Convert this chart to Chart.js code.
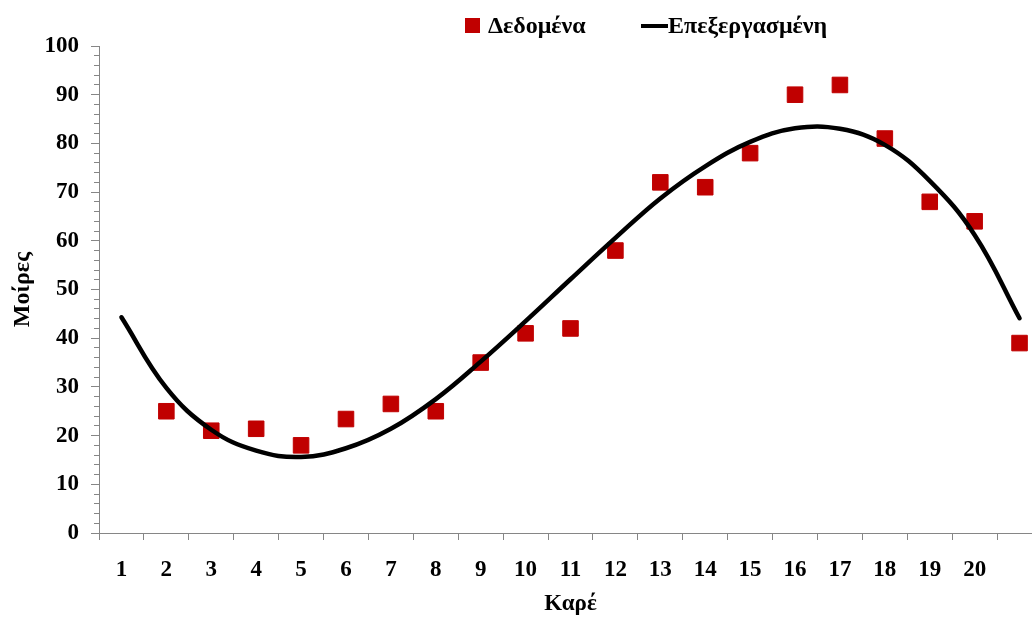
<!DOCTYPE html>
<html>
<head>
<meta charset="utf-8">
<script src="https://cdn.jsdelivr.net/npm/chart.js@4/dist/chart.umd.min.js"></script>
<style>
  html, body { margin: 0; padding: 0; width: 1032px; height: 618px; overflow: hidden; background: #fff; }
  #wrap { position: absolute; left: 0; top: 0; width: 1042px; height: 618px; }
  #legend { position: absolute; left: 0; top: 0; width: 1032px; height: 40px; font: bold 24px "Liberation Serif", "Times New Roman", serif; color: #000; }
  #legend .sw { position: absolute; }
  #legend .tx { position: absolute; top: 10px; line-height: 30px; white-space: nowrap; }
</style>
</head>
<body>
<div id="wrap"><canvas id="chart" width="1042" height="618"></canvas></div>
<div id="legend">
  <div class="sw" style="left:465px; top:18px; width:15px; height:15px; background:#C00000;"></div>
  <div class="tx" style="left:488px;">Δεδομένα</div>
  <div class="sw" style="left:641px; top:24px; width:27px; height:4px; background:#000;"></div>
  <div class="tx" style="left:668px;">Επεξεργασμένη</div>
</div>
<script>
// Frame numbers shown under the x axis
const frameLabels = ['1','2','3','4','5','6','7','8','9','10','11','12','13','14','15','16','17','18','19','20'];

// Measured angles (degrees) per frame
const dataFrames = [2, 3, 4, 5, 6, 7, 8, 9, 10, 11, 12, 13, 14, 15, 16, 17, 18, 19, 20, 21];
const dataDegrees = [25, 21, 21.4, 18, 23.4, 26.5, 25, 35, 41, 42, 58, 72, 71, 78, 90, 92, 81, 68, 64, 39];

// Processed (fitted) curve, sampled along the frame axis
const fitFrames = [1, 2, 3, 4, 5, 6, 7, 8, 9, 10, 11, 12, 13, 14, 15, 16, 17, 18, 19, 20, 21];
const fitDegrees = [44.3, 29.8, 21.2, 16.9, 15.6, 17.4, 21.4, 27.5, 35.2, 43.5, 52.1, 60.6, 68.7, 75.3, 80.3, 83.1, 83.0, 79.7, 72.3, 61.2, 44.1];

// Value-axis ticks: labelled every 10, minor marks every 2
const yMax = 100, yMajor = 10, yMinor = 2;

const serif = '"Liberation Serif", "Times New Roman", serif';
const axisGrey = '#868686';

const toXY = (xs, ys) => xs.map((x, i) => ({ x: x, y: ys[i] }));

new Chart(document.getElementById('chart'), {
  type: 'line',
  data: {
    datasets: [
      {
        label: 'Δεδομένα',
        data: toXY(dataFrames, dataDegrees),
        showLine: false,
        pointStyle: 'rect',
        pointRadius: 11,
        pointHoverRadius: 11,
        pointBackgroundColor: '#C00000',
        pointBorderColor: '#C00000',
        pointBorderWidth: 1,
        clip: false,
        order: 1
      },
      {
        label: 'Επεξεργασμένη',
        data: toXY(fitFrames, fitDegrees),
        borderColor: '#000',
        borderWidth: 4.5,
        pointRadius: 0,
        pointHoverRadius: 0,
        tension: 0.4,
        borderCapStyle: 'round',
        fill: false,
        order: 0
      }
    ]
  },
  options: {
    responsive: false,
    animation: false,
    devicePixelRatio: 1,
    layout: { autoPadding: false, padding: { top: 46, left: 0, right: 0, bottom: 0 } },
    plugins: {
      legend: { display: false },
      tooltip: { enabled: false }
    },
    scales: {
      x: {
        type: 'linear',
        min: 0.5,
        max: frameLabels.length + 1.5,
        afterBuildTicks: (scale) => {
          const t = [];
          for (let v = 0.5; v <= frameLabels.length + 1.5; v += 1) t.push({ value: v });
          scale.ticks = t;
        },
        afterFit: (scale) => {
          scale.height = 85;
          // the axis runs right up to the frame edge on both sides
          scale.paddingLeft = 0;
          scale.paddingRight = 0;
        },
        ticks: {
          autoSkip: false,
          maxRotation: 0,
          minRotation: 0,
          labelOffset: 22.45,
          padding: 16,
          color: '#000',
          font: { family: serif, size: 23, weight: 'bold' },
          callback: (v) => frameLabels[Math.round(v - 0.5)] ?? ''
        },
        grid: {
          display: true,
          drawOnChartArea: false,
          drawTicks: true,
          tickLength: 7,
          tickColor: axisGrey,
          tickWidth: 1
        },
        border: { display: true, color: axisGrey, width: 1 },
        title: {
          display: true,
          text: 'Καρέ',
          color: '#000',
          font: { family: serif, size: 23, weight: 'bold' },
          padding: { top: 0, bottom: 0 }
        }
      },
      y: {
        type: 'linear',
        min: 0,
        max: yMax,
        afterBuildTicks: (scale) => {
          const t = [];
          for (let v = 0; v <= yMax; v += yMinor) t.push({ value: v });
          scale.ticks = t;
        },
        afterFit: (scale) => { scale.width = 99; },
        ticks: {
          autoSkip: false,
          padding: 12,
          color: '#000',
          font: { family: serif, size: 23, weight: 'bold' },
          callback: (v) => (v % yMajor === 0 ? String(v) : '')
        },
        grid: {
          display: true,
          drawOnChartArea: false,
          drawTicks: true,
          tickLength: 8,
          tickColor: axisGrey,
          tickWidth: 1,
          tickBorderDash: (ctx) => (ctx.tick && ctx.tick.value % yMajor === 0 ? [] : [0, 3, 5, 20])
        },
        border: { display: true, color: axisGrey, width: 1 },
        title: {
          display: true,
          text: 'Μοίρες',
          color: '#000',
          font: { family: serif, size: 24, weight: 'bold' },
          padding: { top: 8, bottom: 0 }
        }
      }
    }
  }
});
</script>
</body>
</html>
